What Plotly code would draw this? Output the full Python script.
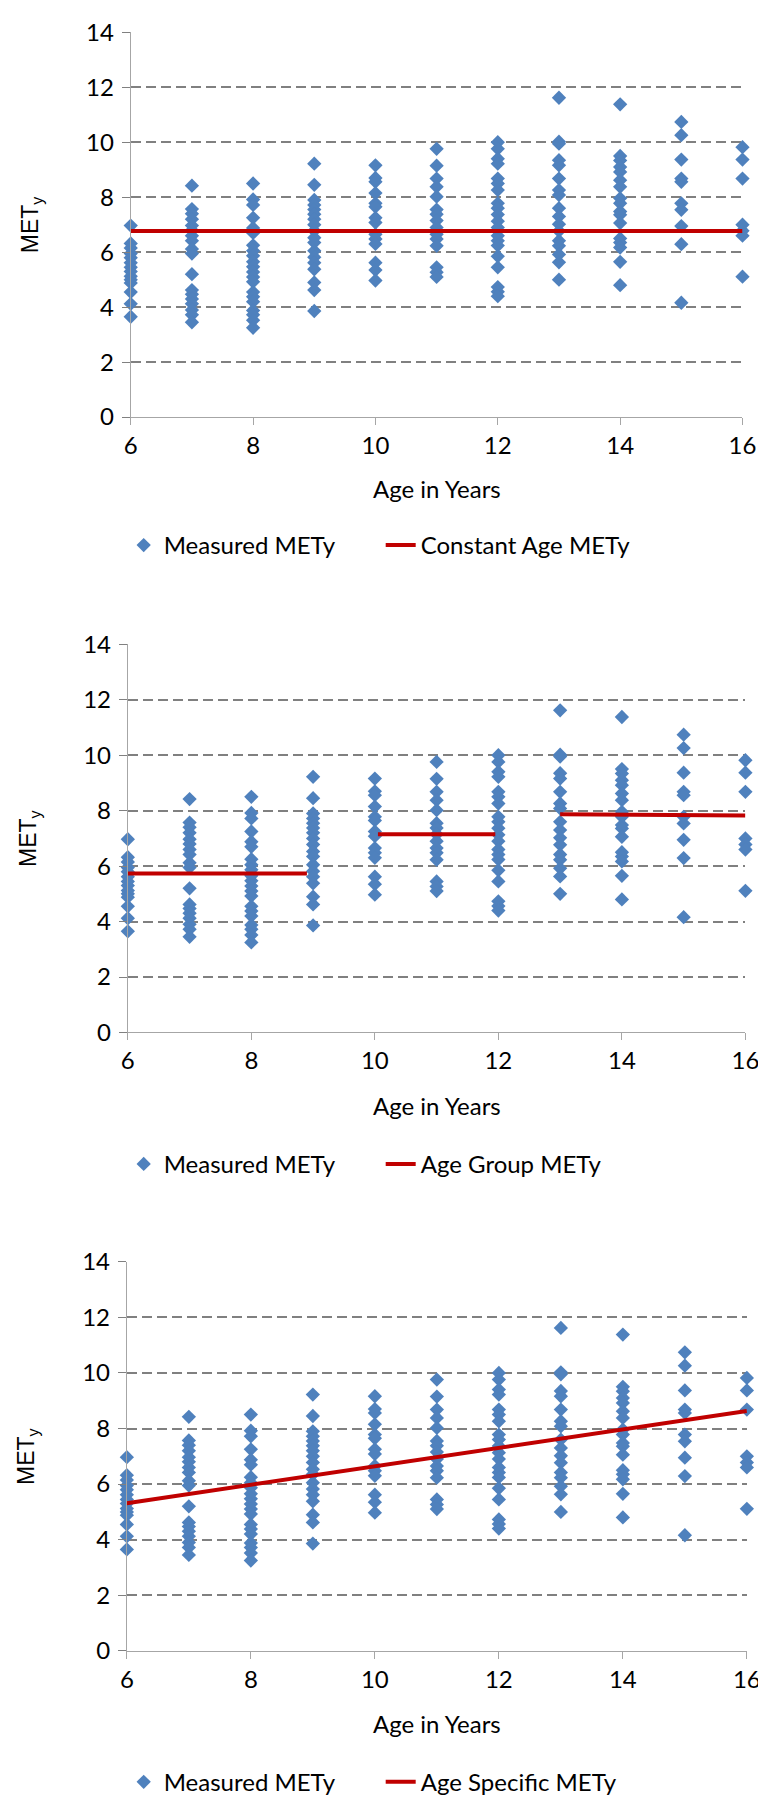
import plotly.graph_objects as go

# ---------------- data ----------------
ages = [6, 7, 8, 9, 10, 11, 12, 13, 14, 15, 16]
mety_age6 = [6.97, 6.32, 6.15, 5.95, 5.8, 5.62, 5.45, 5.3, 5.12, 5.0, 4.88, 4.55, 4.12, 3.65]
mety_age7 = [8.42, 7.57, 7.4, 7.2, 6.97, 6.8, 6.6, 6.42, 6.12, 5.95, 5.2, 4.62, 4.47, 4.3, 4.12, 3.9, 3.72, 3.45]
mety_age8 = [8.5, 7.92, 7.72, 7.25, 6.88, 6.7, 6.25, 6.05, 5.87, 5.65, 5.47, 5.28, 5.1, 4.92, 4.55, 4.38, 4.2, 3.88, 3.72, 3.52, 3.25]
mety_age9 = [9.22, 8.45, 7.9, 7.72, 7.55, 7.38, 7.2, 7.0, 6.78, 6.53, 6.35, 6.05, 5.82, 5.62, 5.38, 4.9, 4.62, 3.86]
mety_age10 = [9.16, 8.7, 8.56, 8.15, 7.78, 7.65, 7.25, 7.08, 6.65, 6.48, 6.3, 5.62, 5.35, 4.97]
mety_age11 = [9.76, 9.15, 8.68, 8.38, 8.02, 7.55, 7.38, 7.15, 6.9, 6.65, 6.48, 6.23, 5.45, 5.27, 5.1]
mety_age12 = [10.0, 9.76, 9.4, 9.22, 8.68, 8.5, 8.26, 7.78, 7.6, 7.37, 7.13, 6.9, 6.6, 6.42, 6.24, 5.85, 5.45, 4.73, 4.56, 4.4]
mety_age13 = [11.62, 10.02, 9.95, 9.35, 9.16, 8.68, 8.26, 8.08, 7.6, 7.3, 7.02, 6.77, 6.42, 6.23, 5.92, 5.63, 5.0]
mety_age14 = [11.38, 9.5, 9.34, 9.1, 8.92, 8.62, 8.38, 7.96, 7.78, 7.48, 7.36, 7.06, 6.5, 6.35, 6.17, 5.65, 4.8]
mety_age15 = [10.74, 10.26, 9.37, 8.68, 8.56, 7.78, 7.54, 6.95, 6.29, 4.16]
mety_age16 = [9.82, 9.37, 8.68, 7.0, 6.78, 6.6, 5.11]

const_x = [6, 16]
const_y = [6.77, 6.77]
group_x = [6, 8.9, None, 10.05, 11.95, None, 13.0, 16]
group_y = [5.73, 5.73, None, 7.15, 7.15, None, 7.87, 7.83]
specific_x = [6, 16]
specific_y = [5.31, 8.63]

x_ticks = [6, 8, 10, 12, 14, 16]
y_ticks = [0, 2, 4, 6, 8, 10, 12, 14]

line_names = ["Constant Age METy", "Age Group METy", "Age Specific METy"]
line_xs = [const_x, group_x, specific_x]
line_ys = [const_y, group_y, specific_y]

# ---------------- build long-form scatter data ----------------
per_age = [mety_age6, mety_age7, mety_age8, mety_age9, mety_age10, mety_age11,
           mety_age12, mety_age13, mety_age14, mety_age15, mety_age16]
sx, sy = [], []
for a, vals in zip(ages, per_age):
    sx += [a] * len(vals)
    sy += vals

W, H = 766, 1800
BLUE = "#4F81BD"
RED = "#C00000"
GRID = "#808080"
AXIS = "#A6A6A6"
FONT = "Lato"
FS = 24

# panel pixel geometry: (left, right, top, bottom, xtitle_y, legend_y, ytitle_x)
panels = [
    (119, 748, 8.5, 399.5, 472, 530, 17),
    (116, 751, 630.5, 1025, 1099, 1159, 15),
    (115, 752.5, 1258, 1653.5, 1727, 1787, 13),
]

fig = go.Figure()
annotations = []
for i, (l, r, t, b, xty, lgy, ytx) in enumerate(panels):
    k = "" if i == 0 else str(i + 1)
    xa, ya = "x" + k, "y" + k
    lg = "legend" + k
    fig.add_trace(go.Scatter(
        x=sx, y=sy, mode="markers", name="Measured METy",
        marker=dict(symbol="diamond", size=11, color=BLUE, line=dict(width=0)),
        xaxis=xa, yaxis=ya, legend=lg, cliponaxis=False))
    fig.add_trace(go.Scatter(
        x=line_xs[i], y=line_ys[i], mode="lines", name=line_names[i],
        line=dict(color=RED, width=4), connectgaps=False,
        xaxis=xa, yaxis=ya, legend=lg, cliponaxis=False))

    fig.update_layout(**{
        "xaxis" + k: dict(
            domain=[l / W, r / W], anchor=ya, range=[6, 16],
            tickvals=x_ticks, ticks="outside", ticklen=7, tickcolor=AXIS,
            showgrid=False, zeroline=False, showline=True, linecolor=AXIS, linewidth=1,
            tickfont=dict(family=FONT, size=FS, color="#000000"),
        ),
        "yaxis" + k: dict(
            domain=[1 - b / H, 1 - t / H], anchor=xa, range=[0, 14],
            tickvals=y_ticks, ticks="outside", ticklen=8, tickcolor=GRID,
            showgrid=True, gridcolor=GRID, gridwidth=2, griddash="10px,5px",
            zeroline=False, showline=True, linecolor=AXIS, linewidth=1,
            tickfont=dict(family=FONT, size=FS, color="#000000"),
            ticklabelstandoff=3,
        ),
        lg: dict(
            orientation="h", x=376 / W, xanchor="center",
            y=1 - lgy / H, yanchor="middle",
            font=dict(family=FONT, size=FS, color="#000000"),
            entrywidth=212, entrywidthmode="pixels",
            bgcolor="rgba(0,0,0,0)",
        ),
    })
    annotations.append(dict(
        text="Age in Years", x=(l + r) / 2 / W, y=1 - xty / H,
        xref="paper", yref="paper", showarrow=False,
        xanchor="center", yanchor="middle",
        font=dict(family=FONT, size=FS, color="#000000")))
    annotations.append(dict(
        text="MET<sub>y</sub>", x=ytx / W, y=1 - (t + b) / 2 / H,
        xref="paper", yref="paper", showarrow=False, textangle=-90,
        xanchor="center", yanchor="middle",
        font=dict(family="Liberation Sans", size=23, color="#000000")))

fig.update_layout(
    width=W, height=H,
    margin=dict(l=0, r=0, t=0, b=0),
    paper_bgcolor="white", plot_bgcolor="white",
    showlegend=True,
    annotations=annotations,
)

fig.write_html("out.html")
